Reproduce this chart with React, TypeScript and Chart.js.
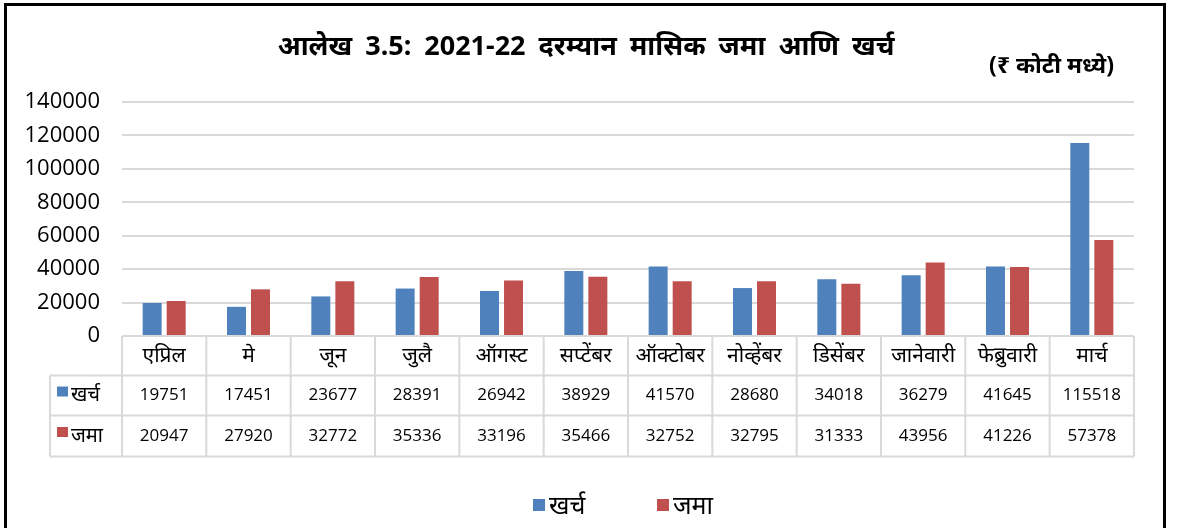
import React, { useEffect, useRef } from "react";
import { Chart, registerables } from "chart.js";

Chart.register(...registerables);

const months = ["एप्रिल", "मे", "जून", "जुलै", "ऑगस्ट", "सप्टेंबर", "ऑक्टोबर", "नोव्हेंबर", "डिसेंबर", "जानेवारी", "फेब्रुवारी", "मार्च"];
const expenditure = [19751, 17451, 23677, 28391, 26942, 38929, 41570, 28680, 34018, 36279, 41645, 115518];
const receipts = [20947, 27920, 32772, 35336, 33196, 35466, 32752, 32795, 31333, 43956, 41226, 57378];
const seriesNames = ["खर्च", "जमा"];
const seriesColors = ["#4F81BD", "#C0504D"];
const titleText = "आलेख 3.5: 2021-22 दरम्यान मासिक जमा आणि खर्च";
const unitText = "(₹ कोटी मध्ये)";
const yMax = 140000;
const yStep = 20000;

const FONT = "'Noto Sans', 'Open Sans', sans-serif";
const NUMFONT = "'Open Sans', 'Noto Sans', sans-serif";

const headerPlugin = {
  id: "headerText",
  afterDraw(chart: any) {
    const ctx = chart.ctx;
    ctx.save();
    ctx.fillStyle = "#000";
    ctx.textBaseline = "middle";
    ctx.textAlign = "center";
    ctx.font = `bold 27px ${FONT}`;
    try { (ctx as any).wordSpacing = "6px"; } catch (e) {}
    ctx.fillText(titleText, 586, 47);
    try { (ctx as any).wordSpacing = "0px"; } catch (e) {}
    ctx.textAlign = "right";
    ctx.font = `bold 23px ${FONT}`;
    ctx.fillText(unitText, 1114, 66);
    ctx.restore();
  },
};

const tablePlugin = {
  id: "dataTable",
  afterDraw(chart: any) {
    const ctx = chart.ctx;
    const xs = chart.scales.x;
    const area = chart.chartArea;
    const n = months.length;
    const cw = (area.right - area.left) / n;
    const top = area.bottom;
    const rows = [top, top + 39.5, top + 79.5, top + 120.5];
    const left = 50;
    const line = (x1: number, y1: number, x2: number, y2: number) => {
      ctx.beginPath();
      ctx.moveTo(x1, y1);
      ctx.lineTo(x2, y2);
      ctx.stroke();
    };
    ctx.save();
    ctx.strokeStyle = "#D9D9D9";
    ctx.lineWidth = 2;
    line(area.left, rows[0], area.right, rows[0]);
    for (let r = 1; r < rows.length; r++) line(left, rows[r], area.right, rows[r]);
    line(left, rows[1], left, rows[3]);
    for (let i = 0; i < n; i++) {
      const cx = xs.getPixelForValue(i);
      line(cx - cw / 2, rows[0], cx - cw / 2, rows[3]);
      if (i === n - 1) line(cx + cw / 2, rows[0], cx + cw / 2, rows[3]);
    }
    ctx.fillStyle = "#000";
    ctx.textAlign = "center";
    ctx.textBaseline = "middle";
    ctx.font = `21px ${FONT}`;
    for (let i = 0; i < n; i++) {
      const cx = xs.getPixelForValue(i);
      ctx.fillText(months[i], cx, (rows[0] + rows[1]) / 2);
    }
    const series = [expenditure, receipts];
    ctx.font = `17px ${NUMFONT}`;
    for (let s = 0; s < series.length; s++) {
      const cy = (rows[s + 1] + rows[s + 2]) / 2;
      for (let i = 0; i < n; i++) {
        const cx = xs.getPixelForValue(i);
        ctx.fillText(String(series[s][i]), cx, cy);
      }
    }
    ctx.textAlign = "left";
    ctx.font = `20px ${FONT}`;
    for (let s = 0; s < seriesNames.length; s++) {
      const cy = (rows[s + 1] + rows[s + 2]) / 2;
      ctx.fillStyle = seriesColors[s];
      ctx.fillRect(57, cy - 9, 11, 10);
      ctx.fillStyle = "#000";
      ctx.fillText(seriesNames[s], 71, cy);
    }
    ctx.restore();
  },
};

const legendPlugin = {
  id: "customLegend",
  afterDraw(chart: any) {
    const ctx = chart.ctx;
    ctx.save();
    ctx.textBaseline = "middle";
    ctx.textAlign = "left";
    ctx.font = `25px ${FONT}`;
    const xs = [533, 657];
    for (let s = 0; s < seriesNames.length; s++) {
      ctx.fillStyle = chart.data.datasets[s].backgroundColor;
      ctx.fillRect(xs[s], 499, 12, 12);
      ctx.fillStyle = "#000";
      ctx.fillText(seriesNames[s], xs[s] + 16, 507);
    }
    ctx.restore();
  },
};

export default function App() {
  const ref = useRef<HTMLCanvasElement | null>(null);
  useEffect(() => {
    document.body.style.margin = "0";
    const chart = new Chart(ref.current as HTMLCanvasElement, {
      type: "bar",
      data: {
        labels: months,
        datasets: [
          { label: seriesNames[0], data: expenditure, backgroundColor: seriesColors[0] },
          { label: seriesNames[1], data: receipts, backgroundColor: seriesColors[1] },
        ],
      },
      options: {
        responsive: false,
        animation: false,
        devicePixelRatio: 1,
        datasets: { bar: { categoryPercentage: 0.57, barPercentage: 0.79 } },
        layout: { padding: { top: 102, right: 43, bottom: 192, left: 0 } },
        plugins: { legend: { display: false }, title: { display: false }, tooltip: { enabled: false } },
        scales: {
          x: {
            ticks: { display: false },
            grid: { display: false, drawTicks: false },
            border: { display: false },
            afterFit: (s: any) => { s.height = 0; },
          },
          y: {
            min: 0,
            max: yMax,
            ticks: {
              stepSize: yStep,
              padding: 22,
              color: "#000",
              font: { family: NUMFONT, size: 22 },
              callback: (v: any) => String(v),
            },
            grid: { color: "#D9D9D9", lineWidth: 2, drawTicks: false },
            border: { display: false },
            afterFit: (s: any) => { s.width = 122; },
          },
        },
      },
      plugins: [headerPlugin, tablePlugin, legendPlugin],
    });
    return () => chart.destroy();
  }, []);
  return (
    <div style={{ position: "absolute", left: 0, top: 0, width: 1177, height: 528, overflow: "hidden", background: "#fff" }}>
      <canvas ref={ref} width={1177} height={528} style={{ position: "absolute", left: 0, top: 0 }} />
      <div style={{ position: "absolute", left: 4, top: 3, width: 1156, height: 600, border: "3px solid #000", pointerEvents: "none" }} />
    </div>
  );
}
